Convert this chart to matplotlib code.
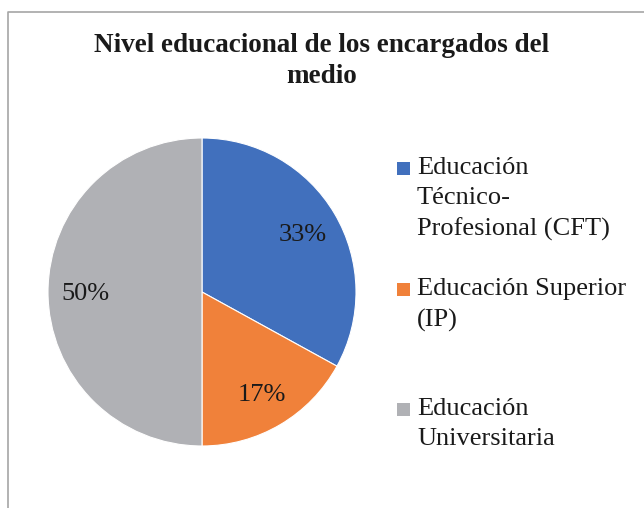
import matplotlib.pyplot as plt
from matplotlib.lines import Line2D
from matplotlib.patches import Rectangle

# Chart data
categories = ['Educación\nTécnico-\nProfesional (CFT)',
              'Educación Superior\n(IP)',
              'Educación\nUniversitaria']
shares = [33, 17, 50]
colors = ['#4170BD', '#F0813A', '#B0B1B5']

plt.rcParams['font.family'] = ['Liberation Serif', 'DejaVu Serif']

W, H = 644, 508
fig = plt.figure(figsize=(W / 100, H / 100), dpi=100)

# Chart frame (only left and top edges are visible in the crop)
fig.add_artist(Line2D([8 / W, 8 / W, 1], [0, 1 - 12 / H, 1 - 12 / H],
                      transform=fig.transFigure, color='#A6A6A6', lw=1.2))

# Title
fig.text(322 / W, 1 - 33.5 / H, 'Nivel educacional de los encargados del\nmedio',
         ha='center', va='top', fontsize=19.5, fontweight='bold',
         linespacing=1.31, color='#1a1a1a')

# Pie
cx, cy, r = 202, 292, 154
ax = fig.add_axes([(cx - r) / W, (H - cy - r) / H, 2 * r / W, 2 * r / H])
wedges, _, autotexts = ax.pie(shares, colors=colors, startangle=90, counterclock=False,
                              autopct='%.0f%%', pctdistance=0.76,
                              wedgeprops=dict(edgecolor='white', linewidth=0.8),
                              textprops=dict(fontsize=19, color='#1a1a1a'))
for t in autotexts:
    t.set_va('center_baseline')
ax.set_xlim(-1, 1)
ax.set_ylim(-1, 1)
ax.set_aspect('equal')
ax.axis('off')

# Legend, entries evenly spaced like Excel
baselines = [177, 298, 418]
for label, color, y in zip(categories, colors, baselines):
    fig.add_artist(Rectangle((397 / W, 1 - (y - 2) / H), 13 / W, 13 / H,
                             transform=fig.transFigure, facecolor=color, edgecolor='none'))
    fig.text(417 / W, 1 - (y - 20) / H, label, ha='left', va='top',
             fontsize=19, linespacing=1.48, color='#1a1a1a')

plt.savefig('out.png', dpi=100)
